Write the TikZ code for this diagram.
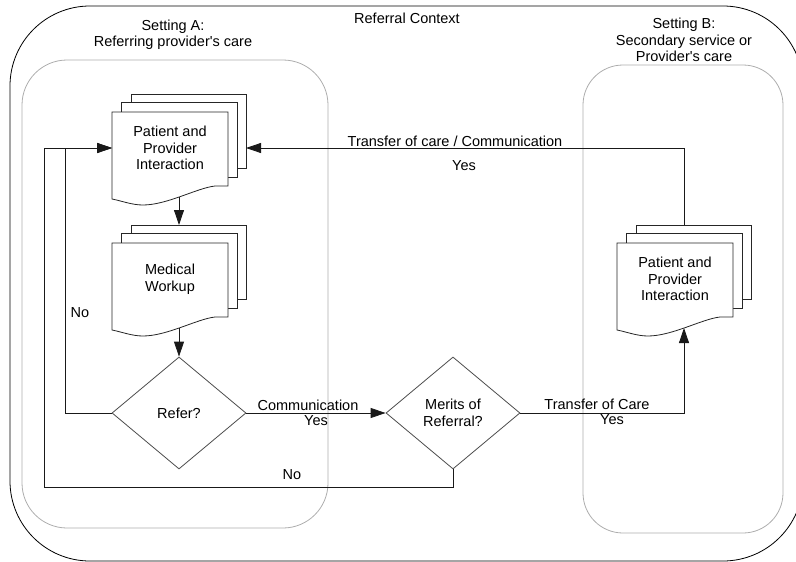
\documentclass[tikz,border=0pt]{standalone}
\usepackage{fontspec}
\setmainfont{Liberation Sans}
\usepackage{tikz}
\usetikzlibrary{arrows.meta,shapes.geometric}
\tikzstyle{ctxbox} = [draw=black, line width=0.8pt, rectangle, rounded corners=80pt, inner sep=0pt]
\tikzstyle{setbox} = [draw=black!32, line width=0.8pt, rectangle, rounded corners=45pt, inner sep=0pt]
\tikzstyle{docline} = [draw=black!85, fill=white, line width=0.8pt]
\tikzstyle{doctext} = [align=center, inner sep=0pt]
\tikzstyle{decision} = [draw=black!70, line width=0.8pt, diamond, align=center,
    minimum width=134pt, minimum height=112pt, inner sep=0pt]
\tikzstyle{lbl} = [align=center, inner sep=0pt]
\tikzstyle{arr} = [draw=black!90, line width=0.8pt, -{Triangle[length=15pt,width=10pt]}]
\newcommand{\docstack}[4]{%
  \begin{scope}[shift={(#2,#3)}]
    \draw[docline] (19,-18) rectangle (134,56);
    \draw[docline] (9,-10) rectangle (125,65);
    \draw[docline] (0,0) -- (116,0) -- (116,74) -- (103,74)
      .. controls (85,76) and (55,93) .. (31,93)
      .. controls (20,93) and (10,89) .. (0,87) -- cycle;
    \node[doctext] (#1) at (58,36) {#4};
    \coordinate (#1-top) at (67,-18);
    \coordinate (#1-bot) at (67,85);
    \coordinate (#1-left) at (0,36);
    \coordinate (#1-right) at (134,36);
  \end{scope}}

\begin{document}
\begin{tikzpicture}[x=1pt, y=-1pt, font=\fontsize{14.5}{16.5}\selectfont]
  \useasboundingbox (0,0) rectangle (796,562);
  % containers
  \node[ctxbox, minimum width=793pt, minimum height=555pt] (ctx) at (406.5,283.5) {};
  \node[setbox, minimum width=306pt, minimum height=468pt] (setA) at (175,294) {};
  \node[setbox, rounded corners=40pt, minimum width=200pt, minimum height=468pt] (setB) at (683,299) {};
  \node[lbl] (ctxtitle) at (407,18) {Referral Context};
  \node[lbl] (setAtitle) at (173,35) {Setting A:\\Referring provider\textquotesingle s care};
  \node[lbl] (setBtitle) at (684,40) {Setting B:\\Secondary service or\\Provider\textquotesingle s care};

  % process steps
  \docstack{ppiA}{112}{112}{Patient and\\Provider\\Interaction}
  \docstack{mw}{112}{243}{Medical\\Workup}
  \docstack{ppiB}{617}{243}{Patient and\\Provider\\Interaction}
  \node[decision] (refer) at (179,413) {Refer?};
  \node[decision] (merits) at (453,413) {Merits of\\Referral?};

  % connectors
  \draw[arr] (ppiA-bot) -- (mw-top);
  \draw[arr] (mw-bot) -- (refer.north);
  \draw[arr] (refer.east) -- (merits.west);
  \draw[arr] (merits.east) -| (ppiB-bot);
  \draw[arr] (ppiB-top) |- (ppiA-right);
  \draw[arr] (refer.west) -- ++(-46,0) |- (ppiA-left);
  \draw[arr] (merits.south) -- ++(0,18) -| ([xshift=-68pt]ppiA-left) -- (ppiA-left);

  % connector labels
  \node[lbl] (lcomm) at (308,405) {Communication};
  \node[lbl] (lcommyes) at (316,421) {Yes};
  \node[lbl] (ltoc) at (597,404) {Transfer of Care};
  \node[lbl] (ltocyes) at (612,420) {Yes};
  \node[lbl] (lback) at (455,141) {Transfer of care / Communication};
  \node[lbl] (lbackyes) at (464,166) {Yes};
  \node[lbl] (lnoA) at (80,313) {No};
  \node[lbl] (lnoB) at (292,475) {No};
\end{tikzpicture}
\end{document}
